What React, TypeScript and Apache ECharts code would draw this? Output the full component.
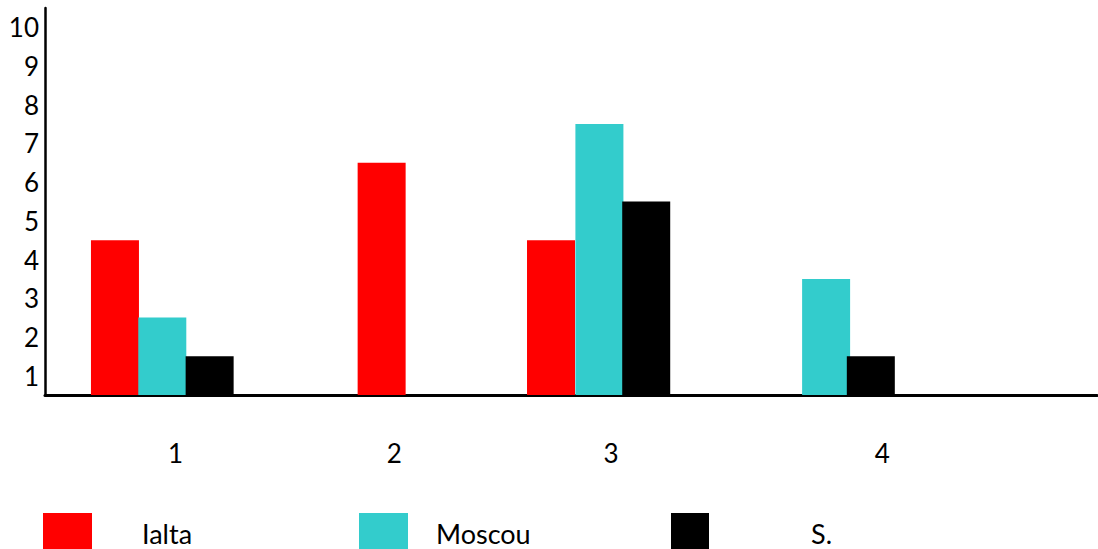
import React, { useEffect, useRef } from "react";
import * as echarts from "echarts";

// X positions are expressed in percent of the horizontal axis length (0..100)
const groupLabels = ["1", "2", "3", "4"];
const groupLabelPos = [12.4, 33.2, 53.8, 79.6];

const yBandLabels = ["1", "2", "3", "4", "5", "6", "7", "8", "9", "10"];

const ialtaData = [
  [6.65, 4],
  [32.0, 6],
  [48.1, 4],
];
const moscouData = [
  [11.15, 2],
  [52.7, 7],
  [74.25, 3],
];
const sData = [
  [15.65, 1],
  [57.15, 5],
  [78.5, 1],
];

const seriesNames = ["Ialta", "Moscou", "S."];
const seriesColors = ["#FF0000", "#33CCCC", "#000000"];

const FONT = "Lato, 'Open Sans', sans-serif";

export default function App() {
  const ref = useRef<HTMLDivElement>(null);

  useEffect(() => {
    if (!ref.current) return;
    const chart = echarts.init(ref.current, null, { renderer: "svg" });
    const datasets = [ialtaData, moscouData, sData];
    const option: any = {
      animation: false,
      backgroundColor: "#ffffff",
      grid: { left: 45, right: 1, top: 8, bottom: 154, containLabel: false },
      xAxis: {
        type: "value",
        min: 0,
        max: 100,
        splitLine: { show: false },
        axisTick: { show: false },
        axisLine: { show: true, lineStyle: { color: "#000", width: 3 } },
        axisLabel: {
          customValues: groupLabelPos,
          formatter: (v: number) => {
            const i = groupLabelPos.indexOf(v);
            return i >= 0 ? groupLabels[i] : "";
          },
          color: "#000",
          fontSize: 26,
          fontFamily: FONT,
          margin: 45,
        },
      },
      yAxis: [
        {
          type: "value",
          min: 0,
          max: 10,
          interval: 1,
          splitLine: { show: false },
          axisTick: { show: false },
          axisLabel: { show: false },
          axisLine: { show: true, lineStyle: { color: "#000", width: 2.5 } },
        },
        {
          type: "category",
          position: "left",
          data: yBandLabels,
          boundaryGap: true,
          axisLine: { show: false },
          axisTick: { show: false },
          splitLine: { show: false },
          axisLabel: {
            color: "#000",
            fontSize: 26,
            fontFamily: FONT,
            margin: 6,
          },
        },
      ],
      legend: seriesNames.map((name, i) => ({
        data: [name],
        left: [43, 359, 671][i],
        top: 513,
        itemWidth: [49, 49, 38][i],
        itemHeight: 40,
        icon: "rect",
        padding: 0,
        selectedMode: false,
        textStyle: {
          color: "#000",
          fontSize: 27,
          fontFamily: FONT,
          padding: [0, 0, 0, [45, 23, 97][i]],
        },
      })),
      series: seriesNames.map((name, i) => ({
        name,
        type: "bar",
        xAxisIndex: 0,
        yAxisIndex: 0,
        barWidth: 48,
        barGap: "-100%",
        itemStyle: { color: seriesColors[i] },
        data: datasets[i],
      })),
    };
    chart.setOption(option);
    return () => chart.dispose();
  }, []);

  return (
    <div
      ref={ref}
      style={{ position: "fixed", left: 0, top: 0, width: 1098, height: 549 }}
    />
  );
}
